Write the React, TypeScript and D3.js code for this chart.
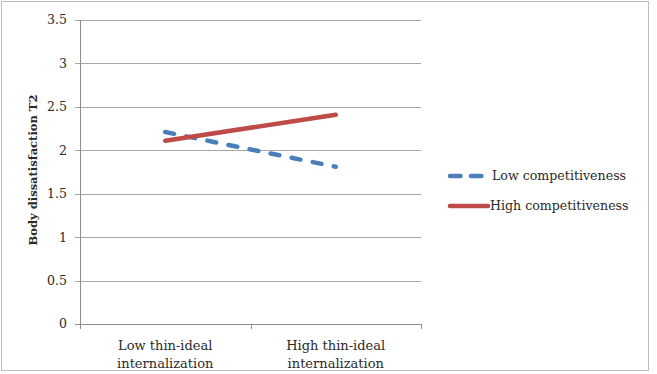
import React from "react";
import * as d3 from "d3";

const categories = ["Low thin-ideal internalization", "High thin-ideal internalization"];
const categoryLines = [["Low thin-ideal", "internalization"], ["High thin-ideal", "internalization"]];
const lowCompetitiveness = [2.21, 1.81];
const highCompetitiveness = [2.11, 2.41];
const yTicks = [0, 0.5, 1, 1.5, 2, 2.5, 3, 3.5];
const seriesNames = ["Low competitiveness", "High competitiveness"];

const W = 657;
const H = 374;
const plot = { left: 80, right: 421, top: 20, bottom: 324 };
const font = "'DejaVu Serif', serif";
const ink = "#2a2a2a";

export default function App() {
  const x = d3.scaleBand().domain(categories).range([plot.left, plot.right]);
  const y = d3.scaleLinear().domain([0, 3.5]).range([plot.bottom, plot.top]);
  const cx = (c: string) => (x(c) as number) + x.bandwidth() / 2;
  const line = d3.line<[number, number]>().x(d => d[0]).y(d => d[1]);

  const lowPts = categories.map((c, i) => [cx(c), y(lowCompetitiveness[i])] as [number, number]);
  const highPts = categories.map((c, i) => [cx(c), y(highCompetitiveness[i])] as [number, number]);

  const blue = "#4a7ebb";
  const red = "#be4b48";

  return (
    <svg width={W} height={H} style={{ position: "absolute", left: 0, top: 0 }}>
      <rect x={0} y={0} width={W} height={H} fill="#fff" />
      <rect x={1.5} y={1.5} width={647} height={369} fill="none" stroke="#bdbdbd" strokeWidth={1} />
      {yTicks.map(t => (
        <g key={t}>
          <line x1={plot.left - 5} x2={plot.right} y1={Math.round(y(t)) + 0.5} y2={Math.round(y(t)) + 0.5}
            stroke={t === 0 ? "#8c8c8c" : "#a6a6a6"} strokeWidth={1} />
          <text x={67} y={y(t)} dy="0.35em" textAnchor="end" fontFamily={font} fontSize={12.5} fill={ink}>
            {t}
          </text>
        </g>
      ))}
      <line x1={plot.left + 0.5} x2={plot.left + 0.5} y1={plot.top} y2={plot.bottom} stroke="#8c8c8c" />
      {[plot.left, plot.left + x.bandwidth(), plot.right].map((v, i) => (
        <line key={i} x1={Math.round(v) + 0.5} x2={Math.round(v) + 0.5} y1={plot.bottom} y2={plot.bottom + 5} stroke="#8c8c8c" />
      ))}
      {categories.map((c, i) => (
        <text key={c} x={cx(c)} y={plot.bottom + 26} textAnchor="middle" fontFamily={font} fontSize={13} fill={ink}>
          {categoryLines[i].map((l, j) => (
            <tspan key={j} x={cx(c)} dy={j === 0 ? 0 : 18}>{l}</tspan>
          ))}
        </text>
      ))}
      <text transform={`translate(37, 170) rotate(-90)`} textAnchor="middle"
        fontFamily={font} fontSize={11.5} fontWeight="bold" fill={ink}>
        Body dissatisfaction T2
      </text>
      <path d={line(lowPts) || ""} fill="none" stroke={blue} strokeWidth={4.5} strokeDasharray="9 12.5" strokeLinecap="round" />
      <path d={line(highPts) || ""} fill="none" stroke={red} strokeWidth={4.5} strokeLinecap="round" />
      <line x1={450} x2={486} y1={176} y2={176} stroke={blue} strokeWidth={4.5} strokeDasharray="10.5 10.5" strokeLinecap="round" />
      <text x={492} y={176} dy="0.35em" fontFamily={font} fontSize={12.6} fill={ink}>{seriesNames[0]}</text>
      <line x1={450} x2={488} y1={206} y2={206} stroke={red} strokeWidth={4.5} strokeLinecap="round" />
      <text x={490} y={206} dy="0.35em" fontFamily={font} fontSize={12.6} fill={ink}>{seriesNames[1]}</text>
    </svg>
  );
}
